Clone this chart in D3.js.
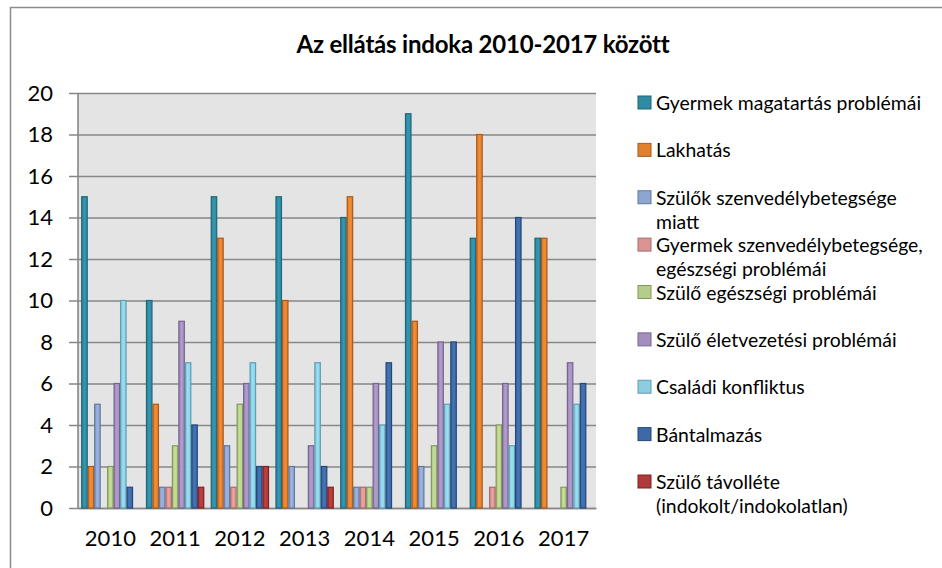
<!DOCTYPE html>
<html>
<head>
<meta charset="utf-8">
<script src="https://cdn.jsdelivr.net/npm/d3@7"></script>
<style>
  body { margin: 0; background: #fff; }
  text { font-family: Lato, "Open Sans", sans-serif; fill: #000; }
</style>
</head>
<body>
<svg id="chart" width="942" height="568"></svg>
<script>
var years = ["2010", "2011", "2012", "2013", "2014", "2015", "2016", "2017"];
var seriesNames = [
  "Gyermek magatartás problémái",
  "Lakhatás",
  "Szülők szenvedélybetegsége miatt",
  "Gyermek szenvedélybetegsége, egészségi problémái",
  "Szülő egészségi problémái",
  "Szülő életvezetési problémái",
  "Családi konfliktus",
  "Bántalmazás",
  "Szülő távolléte (indokolt/indokolatlan)"
];
// legend lines (wrapped like the original)
var legendLines = [
  ["Gyermek magatartás problémái"],
  ["Lakhatás"],
  ["Szülők szenvedélybetegsége", "miatt"],
  ["Gyermek szenvedélybetegsége,", "egészségi problémái"],
  ["Szülő egészségi problémái"],
  ["Szülő életvezetési problémái"],
  ["Családi konfliktus"],
  ["Bántalmazás"],
  ["Szülő távolléte", "(indokolt/indokolatlan)"]
];
var gyermekMagatartas = [15, 10, 15, 15, 14, 19, 13, 13];
var lakhatas          = [2, 5, 13, 10, 15, 9, 18, 13];
var szulokSzenv       = [5, 1, 3, 2, 1, 2, 0, 0];
var gyermekSzenv      = [0, 1, 1, 0, 1, 0, 1, 0];
var szuloEgeszseg     = [2, 3, 5, 0, 1, 3, 4, 1];
var szuloEletvezetes  = [6, 9, 6, 3, 6, 8, 6, 7];
var csaladiKonfliktus = [10, 7, 7, 7, 4, 5, 3, 5];
var bantalmazas       = [1, 4, 2, 2, 7, 8, 14, 6];
var szuloTavollete    = [0, 1, 2, 1, 0, 0, 0, 0];
var yTicks = [0, 2, 4, 6, 8, 10, 12, 14, 16, 18, 20];

var allSeries = [gyermekMagatartas, lakhatas, szulokSzenv, gyermekSzenv, szuloEgeszseg,
                 szuloEletvezetes, csaladiKonfliktus, bantalmazas, szuloTavollete];
var fills   = ["#2f8ba3", "#e0812f", "#8ea5d0", "#d99594", "#b5cd89", "#a38fbe", "#8ccde0", "#3d6aa6", "#b03a3a"];
var strokes = ["#1f6677", "#a95a1c", "#62789f", "#a86c6b", "#84985f", "#77658f", "#5f9fb2", "#24477a", "#7c2222"];

var font = "Lato, Open Sans, sans-serif";
var svg = d3.select("#chart");

// outer chart border
svg.append("rect")
  .attr("x", 10.5).attr("y", 7.5)
  .attr("width", 940).attr("height", 580)
  .attr("fill", "#fff")
  .attr("stroke", "#8c8c8c")
  .attr("stroke-width", 1.5);

var plot = { left: 78, right: 596, top: 93, bottom: 508 };

var x0 = d3.scaleBand().domain(years)
  .range([plot.left, plot.right]).paddingInner(0.1).paddingOuter(0.05);
var x1 = d3.scaleBand().domain(d3.range(allSeries.length))
  .range([0, x0.bandwidth()]);
var y = d3.scaleLinear().domain([0, 20]).range([plot.bottom, plot.top]);

// plot background
svg.append("rect")
  .attr("x", plot.left).attr("y", plot.top)
  .attr("width", plot.right - plot.left).attr("height", plot.bottom - plot.top)
  .attr("fill", "#e4e4e4");

// gridlines + y axis
var yAxis = svg.append("g")
  .attr("transform", "translate(" + plot.left + ",0)")
  .call(d3.axisLeft(y).tickValues(yTicks).tickSize(-(plot.right - plot.left)).tickSizeOuter(0).tickPadding(25));
yAxis.select(".domain").remove();
yAxis.selectAll(".tick line")
  .attr("x1", -9)
  .attr("stroke", "#878787")
  .attr("stroke-width", 1.6);
yAxis.selectAll(".tick text")
  .attr("font-size", 22)
  .attr("font-family", font);

svg.append("line")
  .attr("x1", plot.left).attr("x2", plot.left)
  .attr("y1", plot.top).attr("y2", plot.bottom)
  .attr("stroke", "#878787").attr("stroke-width", 1.6);

// x axis
var xAxis = svg.append("g")
  .attr("transform", "translate(0," + plot.bottom + ")")
  .call(d3.axisBottom(x0).tickSize(0).tickPadding(22));
xAxis.select(".domain").attr("stroke", "#878787").attr("stroke-width", 1.6);
xAxis.selectAll(".tick text")
  .attr("font-size", 22)
  .attr("font-family", font);

// gradient per series
var defs = svg.append("defs");
fills.forEach(function (c, i) {
  var g = defs.append("linearGradient").attr("id", "grad" + i)
    .attr("x1", "0%").attr("x2", "100%").attr("y1", "0%").attr("y2", "0%");
  g.append("stop").attr("offset", "0%").attr("stop-color", d3.color(c).darker(0.2));
  g.append("stop").attr("offset", "45%").attr("stop-color", d3.color(c).brighter(0.25));
  g.append("stop").attr("offset", "100%").attr("stop-color", c);
});

// bars
var groups = svg.append("g").selectAll("g")
  .data(years)
  .enter().append("g")
  .attr("transform", function (d) { return "translate(" + x0(d) + ",0)"; });

groups.selectAll("rect")
  .data(function (d, yi) {
    return allSeries.map(function (s, si) { return { si: si, v: s[yi] }; });
  })
  .enter().append("rect")
  .filter(function (d) { return d.v > 0; })
  .attr("x", function (d) { return x1(d.si) + 0.5; })
  .attr("y", function (d) { return y(d.v); })
  .attr("width", x1.bandwidth() - 1)
  .attr("height", function (d) { return plot.bottom - y(d.v); })
  .attr("fill", function (d) { return "url(#grad" + d.si + ")"; })
  .attr("stroke", function (d) { return strokes[d.si]; })
  .attr("stroke-width", 1.2);

// title
svg.append("text")
  .attr("x", 483).attr("y", 53)
  .attr("text-anchor", "middle")
  .attr("font-size", 24)
  .attr("font-weight", "bold")
  .attr("font-family", font)
  .attr("letter-spacing", -0.2)
  .text("Az ellátás indoka 2010-2017 között");

// legend
var legend = svg.append("g");
var legY = d3.scaleLinear().domain([0, 8]).range([103, 482]);
legendLines.forEach(function (lines, i) {
  var cy = legY(i);
  legend.append("rect")
    .attr("x", 638).attr("y", cy - 7)
    .attr("width", 13).attr("height", 13)
    .attr("fill", fills[i])
    .attr("stroke", strokes[i]);
  lines.forEach(function (t, li) {
    legend.append("text")
      .attr("x", 656).attr("y", cy + 7 + li * 24)
      .attr("font-size", 19.4)
      .attr("font-family", font)
      .text(t);
  });
});
</script>
</body>
</html>
